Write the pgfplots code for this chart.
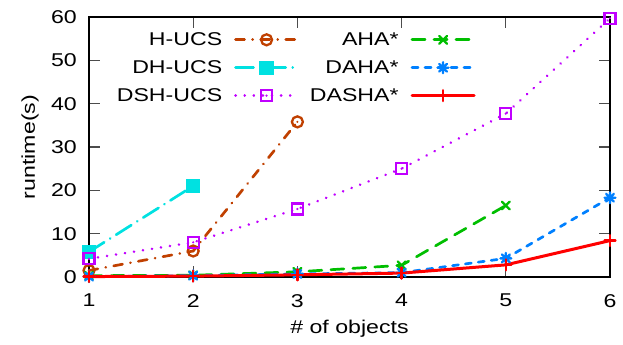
\documentclass[border=0pt]{standalone}
\usepackage{fontspec}
\setmainfont[FakeStretch=1.25]{Liberation Sans}
\usepackage{pgfplots}
\pgfplotsset{compat=1.18}
\definecolor{cH}{RGB}{192,64,0}
\definecolor{cDH}{RGB}{0,225,225}
\definecolor{cDSH}{RGB}{192,0,255}
\definecolor{cAHA}{RGB}{0,190,0}
\definecolor{cDAHA}{RGB}{0,128,255}
\definecolor{cDASHA}{RGB}{255,0,0}
\pgfdeclareplotmark{codot}{%
  \pgfpathcircle{\pgfpointorigin}{\pgfplotmarksize}\pgfusepathqstroke
  \pgfpathcircle{\pgfpointorigin}{1.2pt}\pgfusepathqfill}
\pgfdeclareplotmark{sqdot}{%
  \pgfpathrectangle{\pgfqpoint{-\pgfplotmarksize}{-\pgfplotmarksize}}{\pgfqpoint{2\pgfplotmarksize}{2\pgfplotmarksize}}\pgfusepathqstroke
  \pgfpathcircle{\pgfpointorigin}{1.2pt}\pgfusepathqfill}
\pgfdeclareplotmark{gpstar}{%
  \pgfpathmoveto{\pgfqpoint{-\pgfplotmarksize}{0pt}}\pgfpathlineto{\pgfqpoint{\pgfplotmarksize}{0pt}}%
  \pgfpathmoveto{\pgfqpoint{0pt}{-\pgfplotmarksize}}\pgfpathlineto{\pgfqpoint{0pt}{\pgfplotmarksize}}%
  \pgfpathmoveto{\pgfqpoint{-.707\pgfplotmarksize}{-.707\pgfplotmarksize}}\pgfpathlineto{\pgfqpoint{.707\pgfplotmarksize}{.707\pgfplotmarksize}}%
  \pgfpathmoveto{\pgfqpoint{-.707\pgfplotmarksize}{.707\pgfplotmarksize}}\pgfpathlineto{\pgfqpoint{.707\pgfplotmarksize}{-.707\pgfplotmarksize}}%
  \pgfusepathqstroke}
\begin{document}
\begin{tikzpicture}
\begin{axis}[
  scale only axis, width=521bp, height=260bp,
  xmin=1, xmax=6, ymin=0, ymax=60,
  xtick={1,2,3,4,5,6}, ytick={0,10,20,30,40,50,60},
  tick align=inside, major tick length=11bp,
  every tick/.style={line width=1.2bp, black!70},
  axis line style={line width=1.3bp, black},
  /pgf/number format/assume math mode=true,
  tick label style={font=\fontsize{18.5bp}{22bp}\selectfont, inner sep=0pt},
  yticklabel style={xshift=-12bp},
  xticklabel style={yshift=-17bp},
  xlabel={\# of objects}, ylabel={runtime(s)},
  label style={font=\fontsize{18.5bp}{22bp}\selectfont, inner sep=0pt},
  xlabel style={at={(axis description cs:0.5,0)}, anchor=north, yshift=-43bp},
  ylabel style={at={(axis description cs:-0.113,0.5)}, anchor=center},
  clip=false,
  legend columns=3, transpose legend,
  legend plot pos=right, legend cell align=right,
  legend style={draw=none, fill=none, inner sep=0pt, outer sep=0pt,
    at={(0.742,0.94)}, anchor=north east,
    font=\fontsize{18.5bp}{22bp}\selectfont,
    nodes={inner sep=0pt},
    row sep=13.5bp,
    /tikz/every odd column/.append style={column sep=12bp},
    /tikz/every even column/.append style={column sep=11bp}},
  legend image code/.code={\draw[mark repeat=2, mark phase=2] plot coordinates {(0bp,0bp) (31bp,0bp) (62bp,0bp)};},
  every axis plot/.append style={line width=2.7bp, line cap=round},
  mark options={solid, line width=2.3bp},
]
\addplot[color=cH, dash pattern=on 9bp off 8bp on 0.1bp off 8bp, mark=codot, mark size=5.5bp]
  coordinates {(1,1.5) (2,6) (3,35.8)};
\addlegendentry{H-UCS}
\addplot[color=cDH, dash pattern=on 18bp off 7bp on 0.1bp off 7bp, mark=square*, mark size=6bp]
  coordinates {(1,5.8) (2,21)};
\addlegendentry{DH-UCS}
\addplot[color=cDSH, dash pattern=on 0.1bp off 9bp, mark=sqdot, mark size=5.5bp]
  coordinates {(1,4.2) (2,8) (3,15.7) (4,25) (5,37.7) (6,59.7)};
\addlegendentry{DSH-UCS}
\addplot[color=cAHA, dash pattern=on 13bp off 9bp, mark=x, mark size=5.5bp]
  coordinates {(1,0.3) (2,0.4) (3,1.2) (4,2.7) (5,16.5)};
\addlegendentry{AHA*}
\addplot[color=cDAHA, dash pattern=on 6bp off 7bp, mark=gpstar, mark size=5.5bp]
  coordinates {(1,0.1) (2,0.3) (3,0.7) (4,1) (5,4.3) (6,18.3)};
\addlegendentry{DAHA*}
\addplot[color=cDASHA, mark=+, mark size=5.5bp, line width=3bp]
  coordinates {(1,0.1) (2,0.2) (3,0.5) (4,0.9) (5,2.8) (6,8.4)};
\addlegendentry{DASHA*}
\coordinate (sw) at (rel axis cs:0,0);
\coordinate (ne) at (rel axis cs:1,1);
\end{axis}
\pgfresetboundingbox
\path ([shift={(-89bp,-68bp)}]sw) rectangle ([shift={(13bp,17bp)}]ne);
\end{tikzpicture}
\end{document}
